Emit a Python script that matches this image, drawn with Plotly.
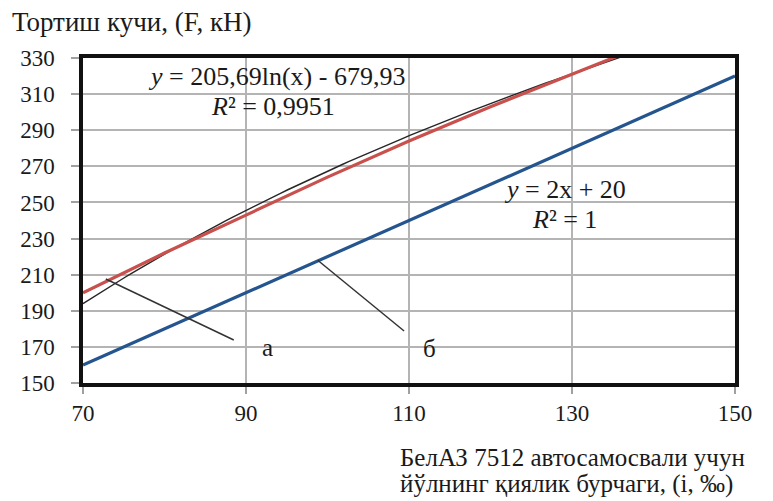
import numpy as np
import plotly.graph_objects as go

# data
x_red = [70, 80, 90, 100, 110, 120, 130, 140]
y_red = [200, 222, 243, 264, 284, 303, 321, 339]
x_blue = [70, 80, 90, 100, 110, 120, 130, 140, 150]
y_blue = [160, 180, 200, 220, 240, 260, 280, 300, 320]
trend_a = 205.69
trend_b = -679.93
x_trend = np.linspace(70, 136, 80)
x_ticks = [70, 90, 110, 130, 150]
y_ticks = [150, 170, 190, 210, 230, 250, 270, 290, 310, 330]

FONT = "Liberation Serif"
RED = "#C8504D"
BLUE = "#24558F"
TXT = "#1a1a1a"

fig = go.Figure()
fig.add_trace(go.Scatter(x=x_trend, y=trend_a * np.log(x_trend) + trend_b, mode="lines",
                         line=dict(color="#262626", width=1.4), hoverinfo="skip"))
fig.add_trace(go.Scatter(x=x_red, y=y_red, mode="lines",
                         line=dict(color=RED, width=3.2)))
fig.add_trace(go.Scatter(x=x_blue, y=y_blue, mode="lines",
                         line=dict(color=BLUE, width=3.2)))

# leader lines
fig.add_trace(go.Scatter(x=[72.8, 88.5], y=[207.6, 173.8], mode="lines",
                         line=dict(color="#333333", width=1.5), hoverinfo="skip"))
fig.add_trace(go.Scatter(x=[98.8, 109.4], y=[218.0, 178.8], mode="lines",
                         line=dict(color="#333333", width=1.5), hoverinfo="skip"))

fig.update_layout(
    width=765, height=493,
    margin=dict(l=73, r=38, t=50, b=118),
    paper_bgcolor="white", plot_bgcolor="white",
    showlegend=False,
    font=dict(family=FONT, size=23, color=TXT),
    xaxis=dict(range=[70, 150], tickvals=x_ticks, showgrid=True, gridcolor="#b4b4b4", gridwidth=1.5,
               showline=True, mirror=True, linecolor="#111111", linewidth=3.5,
               ticks="outside", ticklen=7, tickcolor="#a0a0a0", tickwidth=1.5,
               tickfont=dict(family=FONT, size=23, color=TXT), zeroline=False),
    yaxis=dict(range=[150, 330], tickvals=y_ticks, showgrid=True, gridcolor="#b4b4b4", gridwidth=1.5,
               showline=True, mirror=True, linecolor="#111111", linewidth=3.5,
               ticks="outside", ticklen=8, tickcolor="#a0a0a0", tickwidth=1.5,
               ticklabelstandoff=12,
               tickfont=dict(family=FONT, size=23, color=TXT), zeroline=False),
)

def ann(size):
    return dict(showarrow=False, font=dict(family=FONT, size=size, color=TXT))

fig.add_annotation(x=93.7, y=319.5, xref="x", yref="y", text="<i>y</i> = 205,69ln(x) - 679,93", **ann(26))
fig.add_annotation(x=93.3, y=303.4, xref="x", yref="y", text="<i>R</i>² = 0,9951", **ann(26))
fig.add_annotation(x=129.1, y=257.4, xref="x", yref="y", text="<i>y</i> = 2x + 20", **ann(26))
fig.add_annotation(x=129.1, y=240.8, xref="x", yref="y", text="<i>R</i>² = 1", **ann(26))
fig.add_annotation(x=92.6, y=169.9, xref="x", yref="y", text="а", **ann(25))
fig.add_annotation(x=112.5, y=169.3, xref="x", yref="y", text="б", **ann(25))

# page-level texts (plot area spans x 81..735, y 58..383 on the page)
def px(x):
    return (x - 81) / 654

def py(y):
    return (383 - y) / 325

fig.add_annotation(x=px(8), y=py(22), xref="paper", yref="paper", xanchor="left", yanchor="middle",
                   text="Тортиш кучи, (F, кН)", **ann(27))
fig.add_annotation(x=px(397), y=py(457), xref="paper", yref="paper", xanchor="left", yanchor="middle",
                   text="БелАЗ 7512 автосамосвали учун", **ann(25))
fig.add_annotation(x=px(397), y=py(484), xref="paper", yref="paper", xanchor="left", yanchor="middle",
                   text="йўлнинг қиялик бурчаги, (i, ‰)", **ann(25))

fig.write_html("out.html")
